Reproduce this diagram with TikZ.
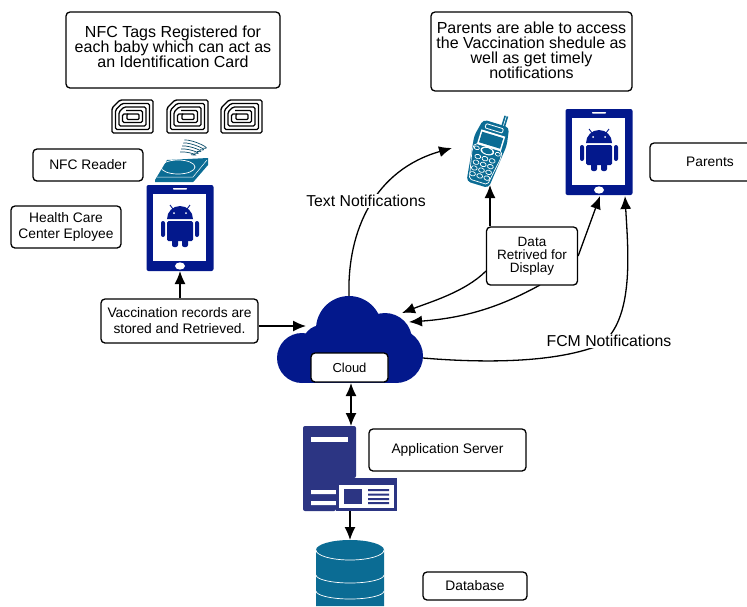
\documentclass[tikz,border=0pt]{standalone}
\usepackage{fontspec}
\setmainfont{Liberation Sans}
\usetikzlibrary{arrows.meta,calc}
\definecolor{navy}{HTML}{03188C}
\definecolor{teal}{HTML}{0B6C94}
\definecolor{srv}{HTML}{2C3583}
\tikzset{
  box/.style={draw=black,line width=1.3pt,rounded corners=4pt,fill=white,align=center,inner sep=0pt,font=\fontsize{13.8}{16}\selectfont},
  conn/.style={line width=1.3pt,-{Latex[length=13pt,width=11pt]}},
  twoway/.style={line width=1.3pt,{Latex[length=13pt,width=11pt]}-{Latex[length=13pt,width=11pt]}},
  lbl/.style={fill=white,inner sep=1.5pt,font=\fontsize{15.8}{17}\selectfont},
  bigtext/.style={align=center,inner sep=0pt,font=\fontsize{16}{15}\selectfont},
  icon/.style={inner sep=0pt,outer sep=0pt},
  android/.pic={
    \fill[navy] (-13,-9) arc[start angle=180,end angle=360,radius=13] -- cycle;
    \draw[navy,line width=.9pt] (-7,-19) -- (-10,-23) (7,-19) -- (10,-23);
    \fill[white] (-6,-15) circle (1) (6,-15) circle (1);
    \fill[navy,rounded corners=1.5pt] (-13,-7) rectangle (13,13);
    \fill[navy,rounded corners=2pt] (-19,-7) rectangle (-15,9) (15,-7) rectangle (19,9);
    \fill[navy,rounded corners=2pt] (-8,8) rectangle (-2,19) (2,8) rectangle (8,19);
  },
  tablet/.pic={
    \fill[navy,rounded corners=2pt] (-33.5,-43) rectangle (33.5,43);
    \fill[white] (-27,-34) rectangle (26,33);
    \fill[white,rounded corners=.7pt] (-7,-40) rectangle (7,-38.5);
    \fill[white] (0,38) ellipse (5 and 3.6);
    \pic at (0,0) {android};
  },
  nfctag/.pic={
    \draw[line width=1.4pt,black,rounded corners=1.5pt,fill=white] (8,0) -- (41,0) -- (41,33) -- (0,33) -- (0,8) -- cycle;
    \draw[line width=1.3pt,rounded corners=1.5pt] (10,3.5) -- (37.5,3.5) -- (37.5,29.5) -- (3.5,29.5) -- (3.5,10) -- cycle;
    \draw[line width=1.3pt,rounded corners=1.5pt] (12,7) -- (34,7) -- (34,26) -- (7,26) -- (7,12) -- cycle;
    \draw[line width=1.3pt,rounded corners=1.5pt] (14,10.5) -- (30.5,10.5) -- (30.5,22.5) -- (10.5,22.5) -- (10.5,14) -- (16,14);
    \draw[line width=1.3pt,rounded corners=1pt] (15,14) -- (27,14) -- (27,19.5) -- (15,19.5) -- cycle;
  }
}
\begin{document}
\begin{tikzpicture}[x=1pt,y=-1pt]
\useasboundingbox (0,0) rectangle (747,606);
% text boxes
\node[box,minimum width=214pt,minimum height=76pt,
  label={[bigtext,yshift=3pt]center:NFC Tags Registered for\\each baby which can act as\\an Identification Card}] (tagsnote) at (173,50) {};
\node[box,minimum width=201pt,minimum height=79pt,
  label={[bigtext,yshift=1pt]center:Parents are able to access\\the Vaccination shedule as\\well as get timely\\notifications}] (parnote) at (531.5,51.5) {};
\node[box,minimum width=110pt,minimum height=32pt] (readerlab) at (88,165) {NFC Reader};
\node[box,minimum width=110pt,minimum height=42pt] (hclab) at (66,227) {Health Care\\Center Eployee};
\node[box,minimum width=120pt,minimum height=38pt] (parlab) at (710,162) {Parents};
% tags
\foreach \n/\x in {t1/112,t2/167,t3/221}{
  \pic at (\x,100) {nfctag};
}
% reader
\node[icon,minimum width=52pt,minimum height=37pt] (reader) at (181,162) {};
\fill[teal] (155,180) -- (167,160) -- (208,158) -- (208,165) -- (195,180) -- (193,182) -- (155,182) -- cycle;
\draw[white,line width=.7pt] (178,167) ellipse (17 and 7);
\draw[white,line width=.5pt] (157,177) -- (193,177) -- (207,160);
\foreach \r in {6,9,12,15,18}{
  \draw[teal!70!black,line width=.7pt] ($(178,158)+(\r*.35,-\r)$) .. controls +(8,-1) and +(12,2) .. ($(178,158)+(\r+7,-\r*.55)$);
}
% tablets
\node[icon,minimum width=67pt,minimum height=86pt] (tabA) at (180,228) {};
\pic at (180,228) {tablet};
\node[icon,minimum width=67pt,minimum height=86pt] (tabB) at (599,152) {};
\pic at (599,152) {tablet};
% phone
\node[icon,minimum width=46pt,minimum height=70pt] (phone) at (490,150) {};
\begin{scope}[shift={(487,152)},rotate=-17]
  \fill[teal,rounded corners=4pt] (-13,-30) -- (14,-30) -- (17,-12) -- (12,34) -- (-11,34) -- (-17,-12) -- cycle;
  \fill[teal] (6,-40) rectangle (10,-28);
  \draw[white,line width=.6pt] (8,-40) -- (8,-30);
  \draw[white,line width=.8pt,rounded corners=1pt] (-9,-27) rectangle (9,-22.5);
  \fill[white] (-12,-20) rectangle (13,-5);
  \fill[teal] (-10.5,-18) rectangle (11.5,-7);
  \draw[white,line width=.7pt,rounded corners=2pt] (-14,-5) -- (14,-5) -- (15,2) -- (10,31) -- (-9,31) -- (-15,2) -- cycle;
  \fill[white] (0,-1) ellipse (7 and 4);
  \fill[teal] (0,-1) ellipse (5.5 and 3);
  \foreach \yy in {7,13,19,25}{
    \foreach \xx in {-7.5,0,7.5}{
      \draw[white,line width=.7pt,fill=teal] (\xx,\yy) ellipse (3 and 2.2);
    }
  }
  \foreach \xx in {-11,11}{ \draw[white,line width=.7pt] (\xx,-1) ellipse (2.6 and 1.8); }
\end{scope}
% cloud
\node[icon,minimum width=146pt,minimum height=87pt] (cloud) at (350,339.5) {};
\fill[navy] (302,358) circle (25) (322,345) circle (20) (349,329) circle (33) (385,340) circle (27) (396,356) circle (27);
\fill[navy] (302,383) rectangle (396,345);
% cloud label
\node[box,minimum width=77pt,minimum height=29pt,font=\fontsize{13}{15}\selectfont] (cloudlab) at (349.5,367.5) {Cloud};
% server
\node[icon,minimum width=54pt,minimum height=85pt] (server) at (330,468.5) {};
\fill[srv,rounded corners=2pt] (303,511) -- (303,426) -- (356,426) -- (356,478) -- (336,478) -- (336,511) -- cycle;
\fill[white] (311,437) rectangle (348,441.5);
\fill[white] (311,490) rectangle (336,494) (311,501) rectangle (336,505);
\fill[srv] (336,478) rectangle (397,511);
\fill[white] (339,485) rectangle (394,508);
\fill[srv] (344,489) rectangle (362,504);
\fill[srv] (368,489) rectangle (389,491) (368,493.5) rectangle (389,495.5) (368,498) rectangle (389,500) (368,502) rectangle (389,504);
\node[icon,minimum width=94pt,minimum height=33pt] (servcard) at (350,494.5) {};
\node[box,minimum width=157pt,minimum height=42pt] (applab) at (447.5,450) {Application Server};
% database
\node[icon,minimum width=68pt,minimum height=66pt] (db) at (350,573) {};
\fill[teal] (316,550) -- (316,606) -- (384,606) -- (384,550) arc[start angle=0,end angle=-180,x radius=34,y radius=10] -- cycle;
\draw[white,line width=.7pt] (316,550) arc[start angle=180,end angle=0,x radius=34,y radius=10];
\draw[white,line width=.7pt] (316,575) arc[start angle=180,end angle=0,x radius=34,y radius=8];
\draw[white,line width=.7pt] (316,591) arc[start angle=180,end angle=0,x radius=34,y radius=8];
\node[box,minimum width=104pt,minimum height=28pt] (dblab) at (475,586) {Database};
% middle boxes
\node[box,minimum width=157pt,minimum height=44pt] (records) at (179.5,321) {Vaccination records are\\stored and Retrieved.};
% anchors
\coordinate (cTop) at (349,296);
\coordinate (cIn1) at (402,313);
\coordinate (cIn2) at (409,322);
\coordinate (cLeft) at (306,326);
\coordinate (cRight) at (423,358);
\coordinate (phoneIn) at (452,148);
\coordinate (tabBin1) at (600,196);
\coordinate (tabBin2) at (625,196);
\coordinate (dLeft) at (486,271);
\coordinate (dBot) at (540,285);
% connectors
\draw[conn] (cTop) .. controls (347,230) and (375,170) .. (phoneIn);
\draw[conn] (records.east |- cLeft) -- (cLeft);
\draw[conn] (records.north -| tabA.south) -- (tabA.south);
\draw[conn] (dBot) .. controls (500,307) and (465,318) .. (cIn2);
\draw[conn] (dLeft) .. controls (465,292) and (430,302) .. (cIn1);
\draw[conn] (cRight) .. controls (470,362) and (550,365) .. (600,345) .. controls (635,320) and (628,250) .. (tabBin2);
\node[box,minimum width=91pt,minimum height=58pt,font=\fontsize{13.5}{13}\selectfont] (data) at (532,256) {Data\\Retrived for\\Display};
\draw[conn] (data.north -| phone.south) -- (phone.south);
\draw[conn] (data.east) -- (tabBin1);
\draw[twoway] (cloud.south -| 351,0) -- (351,426);
\draw[conn] (servcard.south) -- (db.north);
\node[lbl] at (366,201) {Text Notifications};
\node[lbl] at (609,341) {FCM Notifications};
\end{tikzpicture}
\end{document}
